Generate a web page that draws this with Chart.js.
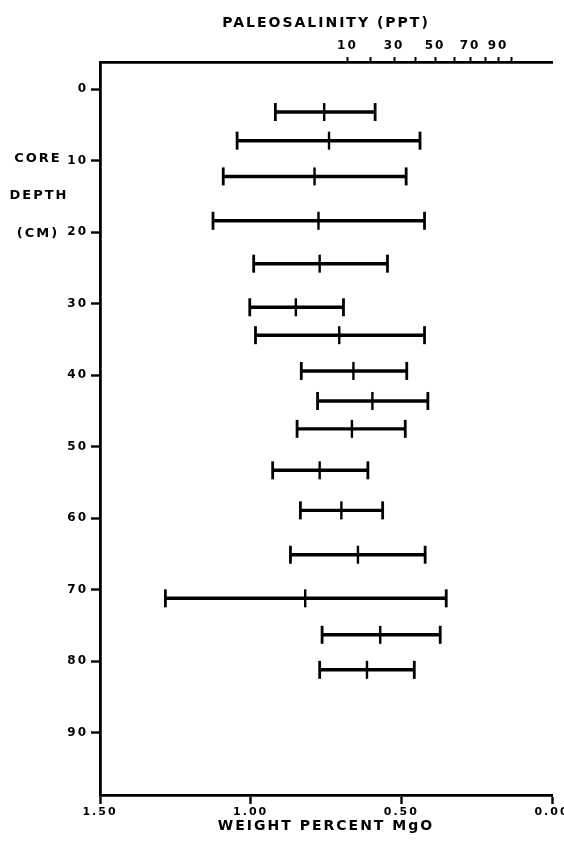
<!DOCTYPE html>
<html>
<head>
<meta charset="utf-8">
<title>MgO vs core depth</title>
<script src="https://cdn.jsdelivr.net/npm/chart.js@4.4.0/dist/chart.umd.min.js"></script>
<style>
  html, body { margin: 0; padding: 0; background: #fff; }
  #wrap { width: 564px; height: 843px; }
</style>
</head>
<body>
<div id="wrap"><canvas id="myChart" width="564" height="843"></canvas></div>
<script>
'use strict';

// core depth (cm) of each sample
let depths = [3.2, 7.2, 12.2, 18.4, 24.4, 30.5, 34.4, 39.4, 43.6, 47.5, 53.3, 58.9, 65.1, 71.2, 76.3, 81.2];
// weight percent MgO: left end, middle, right end of each bar
let mgoHigh = [0.918, 1.045, 1.091, 1.125, 0.990, 1.003, 0.984, 0.832, 0.778, 0.846, 0.927, 0.835, 0.868, 1.283, 0.763, 0.771];
let mgoMean = [0.756, 0.740, 0.788, 0.775, 0.771, 0.850, 0.706, 0.659, 0.596, 0.664, 0.771, 0.699, 0.644, 0.819, 0.570, 0.614];
let mgoLow = [0.587, 0.438, 0.484, 0.423, 0.546, 0.692, 0.423, 0.482, 0.412, 0.487, 0.611, 0.562, 0.421, 0.351, 0.371, 0.457];

// axis ticks
let depthTicks = [0, 10, 20, 30, 40, 50, 60, 70, 80, 90];
let mgoTicks = [1.5, 1.0, 0.5, 0.0];
// paleosalinity scale on top, placed at its MgO equivalent
let salinityTicks = [10, 20, 30, 40, 50, 60, 70, 80, 90, 100];
let salinityMgO = [0.679, 0.603, 0.524, 0.454, 0.388, 0.325, 0.272, 0.222, 0.179, 0.136];
let salinityLabels = [10, 30, 50, 70, 90];

let fontFamily = '"DejaVu Sans", "Liberation Sans", sans-serif';

let barData = [];
let capData = [];
let midData = [];
for (let i = 0; i < depths.length; i++) {
  barData.push({ x: [mgoLow[i], mgoHigh[i]], y: depths[i] });
  capData.push({ x: mgoLow[i], y: depths[i] });
  capData.push({ x: mgoHigh[i], y: depths[i] });
  midData.push({ x: mgoMean[i], y: depths[i] });
}

// wide lettering like the original plot
const spacingPlugin = {
  id: 'spacing',
  beforeDraw(chart) {
    chart.ctx.letterSpacing = '2px';
  }
};

// horizontal "CORE / DEPTH / (CM)" label on the left
const sideLabelPlugin = {
  id: 'sideLabel',
  afterDraw(chart) {
    let ctx = chart.ctx;
    let y = chart.scales.y;
    ctx.save();
    ctx.letterSpacing = '2px';
    ctx.font = 'bold 13px ' + fontFamily;
    ctx.fillStyle = '#000';
    ctx.textAlign = 'center';
    ctx.textBaseline = 'middle';
    ctx.fillText('CORE', 38, y.getPixelForValue(9.7));
    ctx.fillText('DEPTH', 39, y.getPixelForValue(14.9));
    ctx.fillText('(CM)', 38, y.getPixelForValue(20.2));
    ctx.restore();
  }
};

// keep the plot box fixed, labels may hang over the edges
function fixHeight(h) {
  return function (scale) {
    scale.height = h;
    scale.paddingLeft = 0;
    scale.paddingRight = 0;
  };
}

const ctx = document.getElementById('myChart');

new Chart(ctx, {
  type: 'bar',
  data: {
    datasets: [
      {
        type: 'bar',
        indexAxis: 'y',
        data: barData,
        backgroundColor: '#000',
        barThickness: 2.8,
        xAxisID: 'x',
        yAxisID: 'y'
      },
      {
        type: 'scatter',
        data: capData,
        pointStyle: 'line',
        rotation: 90,
        radius: 9,
        borderWidth: 2.8,
        borderColor: '#000',
        xAxisID: 'x',
        yAxisID: 'y'
      },
      {
        type: 'scatter',
        data: midData,
        pointStyle: 'line',
        rotation: 90,
        radius: 9,
        borderWidth: 2.4,
        borderColor: '#000',
        xAxisID: 'x',
        yAxisID: 'y'
      }
    ]
  },
  options: {
    responsive: false,
    animation: false,
    layout: { padding: { left: 0, right: 12, top: 0, bottom: 0 } },
    plugins: {
      legend: { display: false },
      tooltip: { enabled: false }
    },
    scales: {
      x: {
        type: 'linear',
        position: 'bottom',
        offset: false,
        min: 0,
        max: 1.5,
        reverse: true,
        afterBuildTicks(scale) {
          scale.ticks = mgoTicks.map(v => ({ value: v }));
        },
        afterFit: fixHeight(48),
        border: { display: true, color: '#000', width: 2.8 },
        grid: { offset: false, drawOnChartArea: false, drawTicks: true, tickLength: 9, tickWidth: 2.4, tickColor: '#000' },
        ticks: {
          color: '#000',
          padding: 2,
          maxRotation: 0,
          autoSkip: false,
          font: { family: fontFamily, size: 11, weight: 'bold' },
          callback: v => v.toFixed(2)
        },
        title: {
          display: true,
          text: 'WEIGHT PERCENT MgO',
          color: '#000',
          padding: { top: 0, bottom: 8 },
          font: { family: fontFamily, size: 14, weight: 'bold' }
        }
      },
      x2: {
        type: 'linear',
        position: 'top',
        offset: false,
        min: 0,
        max: 1.5,
        reverse: true,
        afterBuildTicks(scale) {
          scale.ticks = salinityMgO.map(v => ({ value: v }));
        },
        afterFit: fixHeight(62),
        border: { display: true, color: '#000', width: 2.8 },
        grid: { offset: false, drawOnChartArea: false, drawTicks: true, tickLength: 5, tickWidth: 2, tickColor: '#000' },
        ticks: {
          color: '#000',
          padding: 4,
          maxRotation: 0,
          autoSkip: false,
          font: { family: fontFamily, size: 12, weight: 'bold' },
          callback: function (v, i) {
            let s = salinityTicks[i];
            return salinityLabels.includes(s) ? String(s) : '';
          }
        },
        title: {
          display: true,
          text: 'PALEOSALINITY (PPT)',
          color: '#000',
          padding: { top: 15, bottom: 0 },
          font: { family: fontFamily, size: 14, weight: 'bold' }
        }
      },
      y: {
        type: 'linear',
        position: 'left',
        offset: false,
        min: -3.8,
        max: 98.7,
        reverse: true,
        afterBuildTicks(scale) {
          scale.ticks = depthTicks.map(v => ({ value: v }));
        },
        afterFit(scale) {
          scale.width = 100;
        },
        border: { display: true, color: '#000', width: 2.8 },
        grid: { offset: false, drawOnChartArea: false, drawTicks: true, tickLength: 9, tickWidth: 2.4, tickColor: '#000' },
        ticks: {
          color: '#000',
          padding: 3,
          autoSkip: false,
          font: { family: fontFamily, size: 12, weight: 'bold' }
        }
      }
    }
  },
  plugins: [spacingPlugin, sideLabelPlugin]
});
</script>
</body>
</html>
